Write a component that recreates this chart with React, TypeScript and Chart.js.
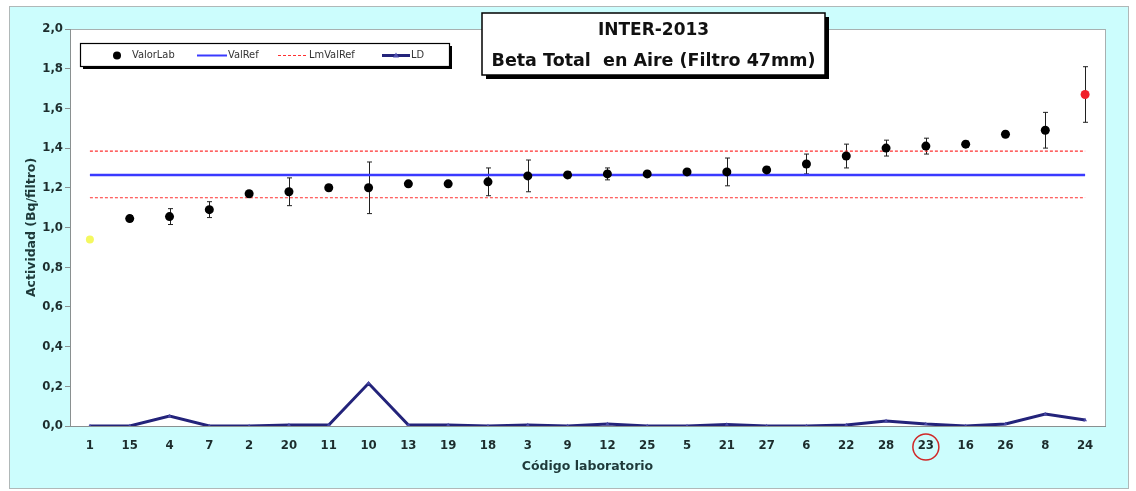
import { useEffect, useRef } from 'react';
import { Chart, registerables } from 'chart.js';

Chart.register(...registerables);

const categories = ['1', '15', '4', '7', '2', '20', '11', '10', '13', '19', '18', '3', '9', '12', '25', '5', '21', '27', '6', '22', '28', '23', '16', '26', '8', '24'];
const valorLab = [0.94, 1.045, 1.055, 1.09, 1.17, 1.18, 1.2, 1.2, 1.22, 1.22, 1.23, 1.26, 1.265, 1.27, 1.27, 1.28, 1.28, 1.29, 1.32, 1.36, 1.4, 1.41, 1.42, 1.47, 1.49, 1.67];
const incertidumbre = [0, 0.015, 0.04, 0.04, 0.015, 0.07, 0.015, 0.13, 0.015, 0.015, 0.07, 0.08, 0.015, 0.03, 0.015, 0.015, 0.07, 0.015, 0.05, 0.06, 0.04, 0.04, 0.015, 0.015, 0.09, 0.14];
const ld = [0, 0, 0.05, 0, 0, 0.005, 0.005, 0.215, 0.005, 0.005, 0, 0.005, 0, 0.01, 0, 0, 0.008, 0, 0, 0.005, 0.025, 0.01, 0, 0.01, 0.06, 0.03];
const valRef = 1.265;
const limSup = 1.385;
const limInf = 1.15;
const yTickLabels = ['0,0', '0,2', '0,4', '0,6', '0,8', '1,0', '1,2', '1,4', '1,6', '1,8', '2,0'];
const legendLabels = ['ValorLab', 'ValRef', 'LmValRef', 'LD'];
const titleLines = ['INTER-2013', 'Beta Total  en Aire (Filtro 47mm)'];
const xTitle = 'Código laboratorio';
const yTitle = 'Actividad (Bq/filtro)';
const highlighted = '23';

const NARROW = "'Liberation Sans Narrow', 'DejaVu Sans Condensed', 'Liberation Sans', sans-serif";
const WIDE = "'DejaVu Sans', Verdana, sans-serif";

const decor = {
  id: 'decor',
  beforeDraw(chart: any) {
    const { ctx, chartArea: a } = chart;
    ctx.save();
    ctx.fillStyle = '#ffffff';
    ctx.fillRect(0, 0, chart.width, chart.height);
    ctx.fillStyle = '#ccfdfd';
    ctx.fillRect(9, 6, 1119, 482);
    ctx.strokeStyle = '#b0b8b8';
    ctx.lineWidth = 1;
    ctx.strokeRect(9.5, 6.5, 1119, 482);
    ctx.fillStyle = '#ffffff';
    ctx.fillRect(a.left, a.top, a.right - a.left, a.bottom - a.top);
    ctx.strokeStyle = '#a8b0b0';
    ctx.strokeRect(a.left + 0.5, a.top + 0.5, a.right - a.left, a.bottom - a.top);
    ctx.restore();
  },
  beforeDatasetsDraw(chart: any) {
    const { ctx } = chart;
    const meta = chart.getDatasetMeta(0);
    const ys = chart.scales.y;
    ctx.save();
    ctx.strokeStyle = '#202020';
    ctx.lineWidth = 1;
    meta.data.forEach((pt: any, i: number) => {
      const e = incertidumbre[i];
      if (!e) return;
      const x = Math.round(pt.x) + 0.5;
      const y1 = ys.getPixelForValue(valorLab[i] + e);
      const y2 = ys.getPixelForValue(valorLab[i] - e);
      ctx.beginPath();
      ctx.moveTo(x, y1);
      ctx.lineTo(x, y2);
      ctx.moveTo(x - 2.5, y1);
      ctx.lineTo(x + 2.5, y1);
      ctx.moveTo(x - 2.5, y2);
      ctx.lineTo(x + 2.5, y2);
      ctx.stroke();
    });
    ctx.restore();
  },
  afterDraw(chart: any) {
    const { ctx } = chart;
    ctx.save();
    // legend box
    const lx = 80, ly = 43, lw = 369, lh = 23;
    ctx.fillStyle = '#000';
    ctx.fillRect(lx + 3, ly + 3, lw, lh);
    ctx.fillStyle = '#fff';
    ctx.fillRect(lx, ly, lw, lh);
    ctx.strokeStyle = '#000';
    ctx.lineWidth = 1.2;
    ctx.strokeRect(lx + 0.5, ly + 0.5, lw, lh);
    const cy = ly + lh / 2 + 1;
    ctx.font = `11px ${NARROW}`;
    ctx.textBaseline = 'middle';
    ctx.textAlign = 'left';
    ctx.fillStyle = '#000';
    ctx.beginPath();
    ctx.arc(117, cy, 4, 0, Math.PI * 2);
    ctx.fill();
    ctx.fillStyle = '#333';
    ctx.fillText(legendLabels[0], 132, cy);
    ctx.strokeStyle = '#3a3aff';
    ctx.lineWidth = 2;
    ctx.beginPath();
    ctx.moveTo(197, cy);
    ctx.lineTo(227, cy);
    ctx.stroke();
    ctx.fillText(legendLabels[1], 228, cy);
    ctx.strokeStyle = '#ff3030';
    ctx.lineWidth = 1;
    ctx.setLineDash([3, 2]);
    ctx.beginPath();
    ctx.moveTo(278, cy);
    ctx.lineTo(308, cy);
    ctx.stroke();
    ctx.setLineDash([]);
    ctx.fillText(legendLabels[2], 309, cy);
    ctx.strokeStyle = '#23237a';
    ctx.lineWidth = 3;
    ctx.beginPath();
    ctx.moveTo(382, cy);
    ctx.lineTo(410, cy);
    ctx.stroke();
    ctx.fillStyle = '#5050b0';
    ctx.beginPath();
    ctx.moveTo(396, cy - 3);
    ctx.lineTo(399, cy + 2);
    ctx.lineTo(393, cy + 2);
    ctx.closePath();
    ctx.fill();
    ctx.fillStyle = '#333';
    ctx.fillText(legendLabels[3], 411, cy);

    // title box
    const tx = 482, ty = 13, tw = 343, th = 62;
    ctx.fillStyle = '#000';
    ctx.fillRect(tx + 4, ty + 4, tw, th);
    ctx.fillStyle = '#fff';
    ctx.fillRect(tx, ty, tw, th);
    ctx.strokeStyle = '#000';
    ctx.lineWidth = 1.5;
    ctx.strokeRect(tx, ty, tw, th);
    ctx.fillStyle = '#111';
    ctx.textAlign = 'center';
    ctx.font = `bold 17px ${WIDE}`;
    ctx.fillText(titleLines[0], tx + tw / 2, 31);
    ctx.font = `bold 17.5px ${WIDE}`;
    ctx.fillText(titleLines[1], tx + tw / 2, 61);

    // circle around highlighted lab
    const xs = chart.scales.x;
    const hx = xs.getPixelForValue(categories.indexOf(highlighted));
    ctx.strokeStyle = '#d02828';
    ctx.lineWidth = 1.5;
    ctx.beginPath();
    ctx.arc(hx, 447, 13, 0, Math.PI * 2);
    ctx.stroke();
    ctx.restore();
  },
};

export default function App() {
  const ref = useRef<HTMLCanvasElement | null>(null);
  useEffect(() => {
    if (!ref.current) return;
    const last = valorLab.length - 1;
    const chart = new Chart(ref.current, {
      type: 'line',
      data: {
        labels: categories,
        datasets: [
          {
            label: legendLabels[0],
            data: valorLab,
            showLine: false,
            pointRadius: (c: any) => (c.dataIndex === 0 ? 4 : 4.5),
            pointBackgroundColor: (c: any) => (c.dataIndex === 0 ? '#f4f860' : c.dataIndex === last ? '#f0202a' : '#000000'),
            pointBorderWidth: 0,
            pointBorderColor: 'rgba(0,0,0,0)',
          },
          {
            label: legendLabels[1],
            data: categories.map(() => valRef),
            borderColor: '#3a3aff',
            borderWidth: 2.5,
            pointRadius: 0,
          },
          {
            label: legendLabels[2],
            data: categories.map(() => limSup),
            borderColor: '#ff3030',
            borderWidth: 1.2,
            borderDash: [3, 2],
            pointRadius: 0,
          },
          {
            label: legendLabels[2] + ' inf',
            data: categories.map(() => limInf),
            borderColor: '#ff3030',
            borderWidth: 1.2,
            borderDash: [3, 2],
            pointRadius: 0,
          },
          {
            label: legendLabels[3],
            data: ld,
            borderColor: '#23237a',
            borderWidth: 3,
            pointRadius: 2.2,
            pointStyle: 'triangle',
            pointBackgroundColor: '#4a4aa8',
            pointBorderColor: '#4a4aa8',
            pointBorderWidth: 0,
            tension: 0,
          },
        ],
      },
      options: {
        animation: false,
        responsive: false,
        devicePixelRatio: 1,
        layout: { padding: { left: 0, right: 31, top: 29, bottom: 0 } },
        plugins: { legend: { display: false }, tooltip: { enabled: false }, title: { display: false } },
        elements: { line: { tension: 0 } },
        scales: {
          x: {
            type: 'category',
            offset: true,
            grid: { display: false, drawTicks: false },
            border: { display: true, color: '#8a9090', width: 1 },
            ticks: {
              padding: 12,
              color: '#1c2c2c',
              font: { family: NARROW, size: 13, weight: 'bold' },
              maxRotation: 0,
              autoSkip: false,
            },
            title: {
              display: true,
              text: xTitle,
              color: '#1e3a3a',
              font: { family: WIDE, size: 12.5, weight: 'bold' },
              padding: { top: 0, bottom: 17 },
            },
            afterFit: (s: any) => {
              s.height = 65;
            },
          },
          y: {
            min: 0,
            max: 2,
            ticks: {
              stepSize: 0.2,
              padding: 2,
              color: '#1c2c2c',
              font: { family: NARROW, size: 13, weight: 'bold' },
              callback: (_v: any, i: number) => yTickLabels[i],
            },
            grid: { display: true, drawOnChartArea: false, drawTicks: true, tickLength: 5, color: '#8a9090' },
            border: { display: true, color: '#8a9090', width: 1 },
            title: {
              display: true,
              text: yTitle,
              color: '#1e3a3a',
              font: { family: WIDE, size: 12.5, weight: 'bold' },
              padding: { top: 24, bottom: 0 },
            },
            afterFit: (s: any) => {
              s.width = 70;
            },
          },
        },
      },
      plugins: [decor],
    } as any);
    return () => chart.destroy();
  }, []);
  return (
    <div style={{ position: 'absolute', left: 0, top: 0, width: 1136, height: 491 }}>
      <canvas ref={ref} width={1136} height={491} style={{ width: 1136, height: 491, display: 'block' }} />
    </div>
  );
}
